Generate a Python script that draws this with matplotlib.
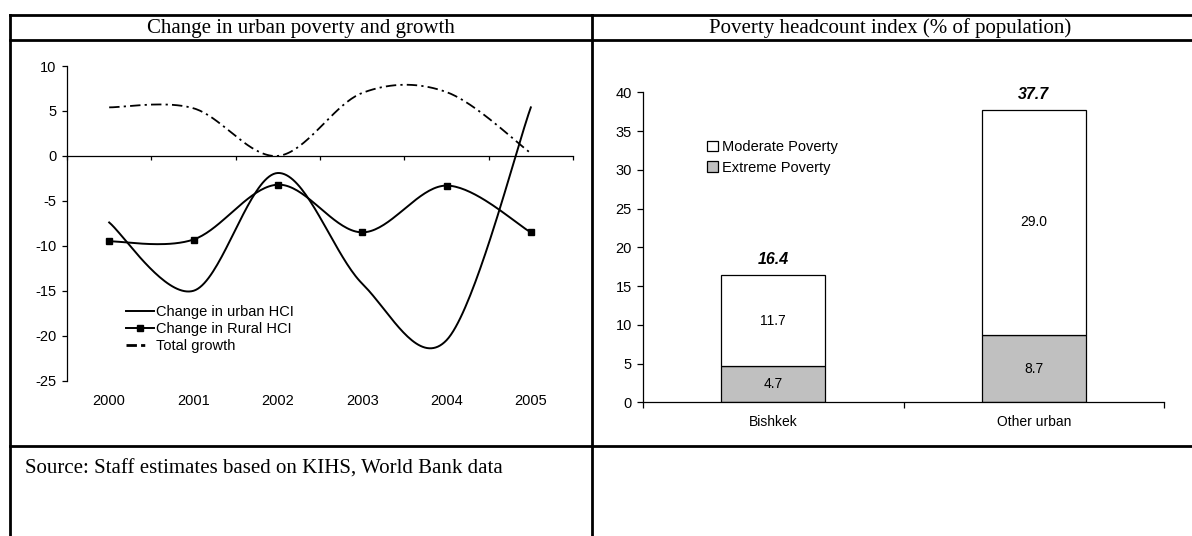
import numpy as np
import matplotlib
matplotlib.use("Agg")
import matplotlib.pyplot as plt
from matplotlib.lines import Line2D
from matplotlib.patches import Patch

plt.rcParams['font.family'] = ['Liberation Sans', 'DejaVu Sans']
plt.rcParams['lines.scale_dashes'] = False
plt.rcParams['axes.unicode_minus'] = False

# data
years = ['2000', '2001', '2002', '2003', '2004', '2005']
urban_hci = [-7.4, -15.0, -1.9, -14.2, -20.5, 5.4]
rural_hci = [-9.5, -9.3, -3.2, -8.5, -3.3, -8.5]
total_growth = [5.4, 5.3, 0.0, 7.0, 7.1, 0.3]

places = ['Bishkek', 'Other urban']
extreme = [4.7, 8.7]
moderate = [11.7, 29.0]
totals = [16.4, 37.7]

W, H = 1192, 536


def fx(px):
    return px / W


def fy(py):
    return 1 - py / H


def smooth(xs, ys, n=40):
    # excel-like bezier smoothing through the points
    pts = np.column_stack([xs, ys]).astype(float)
    pad = np.vstack([pts[0], pts, pts[-1]])
    t = np.linspace(0, 1, n)[:, None]
    out = []
    for i in range(len(pts) - 1):
        p0, p1, p2, p3 = pad[i], pad[i + 1], pad[i + 2], pad[i + 3]
        c1 = p1 + (p2 - p0) / 6
        c2 = p2 - (p3 - p1) / 6
        seg = (1 - t) ** 3 * p1 + 3 * (1 - t) ** 2 * t * c1 + 3 * (1 - t) * t ** 2 * c2 + t ** 3 * p2
        out.append(seg if i == 0 else seg[1:])
    return np.vstack(out)


fig = plt.figure(figsize=(W / 100, H / 100), dpi=100)

# table frame
lw_tab = 2.0
for (x0, y0, x1, y1) in [(10, 15, W, 15), (10, 40, W, 40), (10, 446, W, 446),
                         (10, 15, 10, H), (592, 15, 592, H)]:
    fig.add_artist(Line2D([fx(x0), fx(x1)], [fy(y0), fy(y1)], color='black', lw=lw_tab))

fig.text(fx(301), fy(28), 'Change in urban poverty and growth', family='Liberation Serif',
         fontsize=15, ha='center', va='center')
fig.text(fx(890), fy(28), 'Poverty headcount index (% of population)', family='Liberation Serif',
         fontsize=15, ha='center', va='center')
fig.text(fx(25), fy(469), 'Source: Staff estimates based on KIHS, World Bank data',
         family='Liberation Serif', fontsize=15, ha='left', va='center')

# left chart
ax = fig.add_axes([fx(67), fy(380.7), fx(573) - fx(67), fy(66) - fy(380.7)])
x = np.arange(len(years))
su = smooth(x, urban_hci)
sr = smooth(x, rural_hci)
sg = smooth(x, total_growth)
ax.plot(su[:, 0], su[:, 1], color='black', lw=1.4)
ax.plot(sr[:, 0], sr[:, 1], color='black', lw=1.4)
ax.plot(x, rural_hci, ls='none', marker='s', ms=4.5, color='black')
lg, = ax.plot(sg[:, 0], sg[:, 1], color='black', lw=1.3)
lg.set_dashes((7.5, 3, 1.6, 3))
ax.set_xlim(-0.5, len(years) - 0.5)
ax.set_ylim(-25, 10)
ax.set_yticks(np.arange(-25, 11, 5))
ax.set_xticks(np.arange(-0.5, len(years), 1))
ax.set_xticklabels([])
ax.spines['top'].set_visible(False)
ax.spines['right'].set_visible(False)
ax.spines['bottom'].set_position(('data', 0))
for s in ['left', 'bottom']:
    ax.spines[s].set_linewidth(0.9)
ax.tick_params(axis='y', direction='out', length=3.5, width=0.9, pad=4, labelsize=10.5)
ax.tick_params(axis='x', direction='out', length=3, width=0.9)
for i, yr in enumerate(years):
    ax.text(i, -0.064, yr, transform=ax.get_xaxis_transform(), ha='center', va='center',
            fontsize=10.5, clip_on=False)
h1 = Line2D([], [], color='black', lw=1.4)
h2 = Line2D([], [], color='black', lw=1.4, marker='s', ms=4)
h3 = Line2D([], [], color='black', lw=2.0)
h3.set_dashes((7.5, 3, 3, 30))
ax.legend([h1, h2, h3], ['Change in urban HCI', 'Change in Rural HCI', 'Total growth'],
          loc='upper left', bbox_to_anchor=(fx(126), fy(305)), bbox_transform=fig.transFigure,
          frameon=False, fontsize=10.5, handlelength=1.95, handletextpad=0.1,
          labelspacing=0.2, borderpad=0, borderaxespad=0)

# right chart
bx = fig.add_axes([fx(643), fy(402.3), fx(1164) - fx(643), fy(92.3) - fy(402.3)])
xp = np.arange(len(places))
b1 = bx.bar(xp, extreme, width=0.4, color='#c0c0c0', edgecolor='black', lw=0.9,
            label='Extreme Poverty')
b2 = bx.bar(xp, moderate, width=0.4, bottom=extreme, color='white', edgecolor='black', lw=0.9,
            label='Moderate Poverty')
bx.bar_label(b1, labels=[f'{v:.1f}' for v in extreme], label_type='center', fontsize=10)
bx.bar_label(b2, labels=[f'{v:.1f}' for v in moderate], label_type='center', fontsize=10)
bx.bar_label(b2, labels=[f'{v:.1f}' for v in totals], padding=6, fontsize=11.5,
             fontweight='bold', fontstyle='italic')
bx.set_xlim(-0.5, len(places) - 0.5)
bx.set_ylim(0, 40)
bx.set_yticks(np.arange(0, 41, 5))
bx.set_xticks([-0.5, 0.5, 1.5])
bx.set_xticklabels([])
bx.set_xticks(xp, places, minor=True)
bx.tick_params(axis='x', which='minor', length=0, pad=9, labelsize=10)
bx.tick_params(axis='x', which='major', direction='out', length=4, width=0.9)
bx.tick_params(axis='y', direction='out', length=4, width=0.9, pad=4, labelsize=10.5)
bx.spines['top'].set_visible(False)
bx.spines['right'].set_visible(False)
for s in ['left', 'bottom']:
    bx.spines[s].set_linewidth(0.9)
bx.legend(handles=[Patch(facecolor='white', edgecolor='black', lw=0.9, label='Moderate Poverty'),
                   Patch(facecolor='#c0c0c0', edgecolor='black', lw=0.9, label='Extreme Poverty')],
          loc='upper left', bbox_to_anchor=(fx(707), fy(140)), bbox_transform=fig.transFigure,
          frameon=False, fontsize=10.5, handlelength=0.75, handleheight=0.75, handletextpad=0.3,
          labelspacing=0.45, borderpad=0, borderaxespad=0)

fig.savefig('out.png', dpi=100)
